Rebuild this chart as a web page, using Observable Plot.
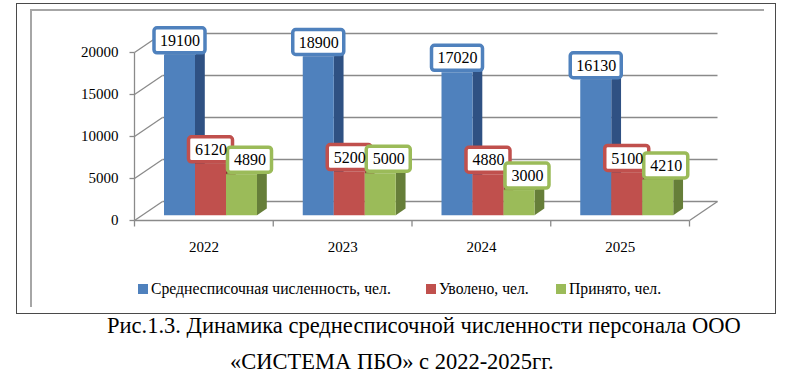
<!DOCTYPE html>
<html><head><meta charset="utf-8">
<script src="https://cdn.jsdelivr.net/npm/d3@7"></script>
<script src="https://cdn.jsdelivr.net/npm/@observablehq/plot@0.6"></script>
<style>
body{margin:0;background:#fff;font-family:"Liberation Serif","Times New Roman",Times,serif;color:#000;}
#wrap{position:relative;width:800px;height:382px;overflow:hidden;}
#outer{position:absolute;left:16px;top:3px;width:760px;height:311px;border:1px solid #4a4a4a;box-sizing:border-box;}
#inner{position:absolute;left:30px;top:9px;width:734px;height:298px;border-top:2px solid #a6a6a6;border-left:2px solid #a6a6a6;box-sizing:border-box;}
#chart{position:absolute;left:0;top:0;}
.lg{position:absolute;top:281px;font-size:15.7px;line-height:16px;white-space:nowrap;}
.sw{position:absolute;top:284px;width:10px;height:10px;}
.cap{position:absolute;font-size:22.5px;line-height:22px;white-space:nowrap;}
</style></head>
<body>
<div id="wrap">
  <div id="outer"></div>
  <div id="inner"></div>
  <div id="chart"></div>
  <div id="legend"></div>
  <div class="cap" style="left:107px;top:315px;">Рис.1.3. Динамика среднесписочной численности персонала ООО</div>
  <div class="cap" style="left:230px;top:351px;">«СИСТЕМА ПБО» с 2022-2025гг.</div>
</div>
<script>
// ---- data ----
const years = ["2022", "2023", "2024", "2025"];
const seriesNames = ["Среднесписочная численность, чел.", "Уволено, чел.", "Принято, чел."];
const avgHeadcount = [19100, 18900, 17020, 16130];
const dismissed = [6120, 5200, 4880, 5100];
const hired = [4890, 5000, 3000, 4210];
const yTicks = [0, 5000, 10000, 15000, 20000];

// ---- style ----
const frontColors = ["#4F81BD", "#C0504D", "#9BBB59"];
const sideColors = ["#2F5183", "#8A3533", "#667E39"];
const topColors = ["#3E6AA5", "#A8423F", "#86A44A"];
const labelShift = [0, 0, 8];     // px horizontal shift of data labels per series
const gridColor = "#8a8a8a";
const font = "Liberation Serif, Times New Roman, Times, serif";

// scale geometry (pixels) and helpers converting pixel offsets to data units
const X0 = 134, X1 = 689, Y0 = 220, Y1 = 52;
const KX = (X1 - X0) / years.length;
const KY = (Y0 - Y1) / 20000;
const ux = px => px / KX;
const uy = px => px / KY;
const DX = 28, DY = 19;           // full floor depth offset (px)
const D0 = 0.25, D1 = 0.6;        // bar depth range (fraction)
const GAP = 23, BW = 31;          // group inset & bar width (px)

const values = [avgHeadcount, dismissed, hired];
const bars = [];
years.forEach((yr, i) => {
  values.forEach((vals, j) => {
    const v = vals[i];
    const xl = i + ux(GAP + j * BW + DX * D0);
    const xr = xl + ux(BW);
    const yb = uy(DY * D0);
    const yt = v + uy(DY * D0);
    bars.push({key: yr + "-" + j, i, j, v, xl, xr, yb, yt,
      front: frontColors[j], side: sideColors[j], top: topColors[j]});
  });
});
const ddx = ux(DX * (D1 - D0)), ddy = uy(DY * (D1 - D0));
const sidePts = bars.flatMap(b => [
  {key: b.key, x: b.xr, y1: b.yb, y2: b.yt, c: b.side},
  {key: b.key, x: b.xr + ddx, y1: b.yb + ddy, y2: b.yt + ddy, c: b.side}
]);
const topPts = bars.flatMap(b => [
  {key: b.key, y: b.yt, x1: b.xl, x2: b.xr, c: b.top},
  {key: b.key, y: b.yt + ddy, x1: b.xl + ddx, x2: b.xr + ddx, c: b.top}
]);
const labels = bars.map(b => {
  const cx = (b.xl + b.xr) / 2 + ux(labelShift[b.j]);
  const cy = b.yt + uy(14.5);
  const hw = String(b.v).length > 4 ? 25.5 : 22;
  return {cx, cy, x1: cx - ux(hw), x2: cx + ux(hw), y1: cy - uy(12.5), y2: cy + uy(12.5),
    text: String(b.v), c: b.front};
});

const chart = Plot.plot({
  width: 800, height: 313, margin: 0,
  x: {type: "linear", domain: [0, years.length], range: [X0, X1], axis: null},
  y: {type: "linear", domain: [0, 20000], range: [Y0, Y1], axis: null},
  color: {type: "identity"},
  style: {background: "transparent", fontFamily: font, overflow: "visible"},
  marks: [
    // back wall gridlines
    Plot.link(yTicks, {x1: ux(DX), x2: years.length + ux(DX), y1: d => d + uy(DY), y2: d => d + uy(DY), stroke: gridColor, strokeWidth: 1.3}),
    // left wall diagonals
    Plot.link(yTicks, {x1: 0, y1: d => d, x2: ux(DX), y2: d => d + uy(DY), stroke: gridColor, strokeWidth: 1.3}),
    // floor front & right edges
    Plot.link([0], {x1: 0, x2: years.length, y1: 0, y2: 0, stroke: gridColor, strokeWidth: 1.3}),
    Plot.link([0], {x1: years.length, x2: years.length + ux(DX), y1: 0, y2: uy(DY), stroke: gridColor, strokeWidth: 1.3}),
    // front value axis & ticks
    Plot.link([0], {x1: 0, x2: 0, y1: 0, y2: 20000, stroke: gridColor, strokeWidth: 1.3}),
    Plot.link(yTicks, {x1: -ux(5), x2: 0, y1: d => d, y2: d => d, stroke: gridColor, strokeWidth: 1.3}),
    Plot.link(d3.range(years.length + 1), {x1: d => d, x2: d => d, y1: 0, y2: -uy(6), stroke: gridColor, strokeWidth: 1.3}),
    // tick labels
    Plot.text(yTicks, {x: 0, y: d => d, text: d => String(d), dx: -16, textAnchor: "end", fontSize: 15, fill: "#000"}),
    Plot.text(years, {x: (d, i) => i + 0.5, y: 0, text: d => d, dy: 27, fontSize: 15, fill: "#000"}),
    // 3D bars
    Plot.areaY(sidePts, {x: "x", y1: "y1", y2: "y2", z: "key", fill: "c"}),
    Plot.areaX(topPts, {y: "y", x1: "x1", x2: "x2", z: "key", fill: "c"}),
    Plot.rect(bars, {x1: "xl", x2: "xr", y1: "yb", y2: "yt", fill: "front"}),
    // data labels
    Plot.rect(labels, {x1: "x1", x2: "x2", y1: "y1", y2: "y2", fill: "#fff", stroke: "c", strokeWidth: 3.5, rx: 3}),
    Plot.text(labels, {x: "cx", y: "cy", text: "text", fontSize: 16, fill: "#000"})
  ]
});
document.getElementById("chart").appendChild(chart);

// legend
const lgPos = [[138, 151], [426, 439], [556, 569]];
const legend = document.getElementById("legend");
seriesNames.forEach((name, j) => {
  const sw = document.createElement("div");
  sw.className = "sw"; sw.style.left = lgPos[j][0] + "px"; sw.style.background = frontColors[j];
  const t = document.createElement("div");
  t.className = "lg"; t.style.left = lgPos[j][1] + "px"; t.textContent = name;
  legend.appendChild(sw); legend.appendChild(t);
});
</script>
</body></html>
